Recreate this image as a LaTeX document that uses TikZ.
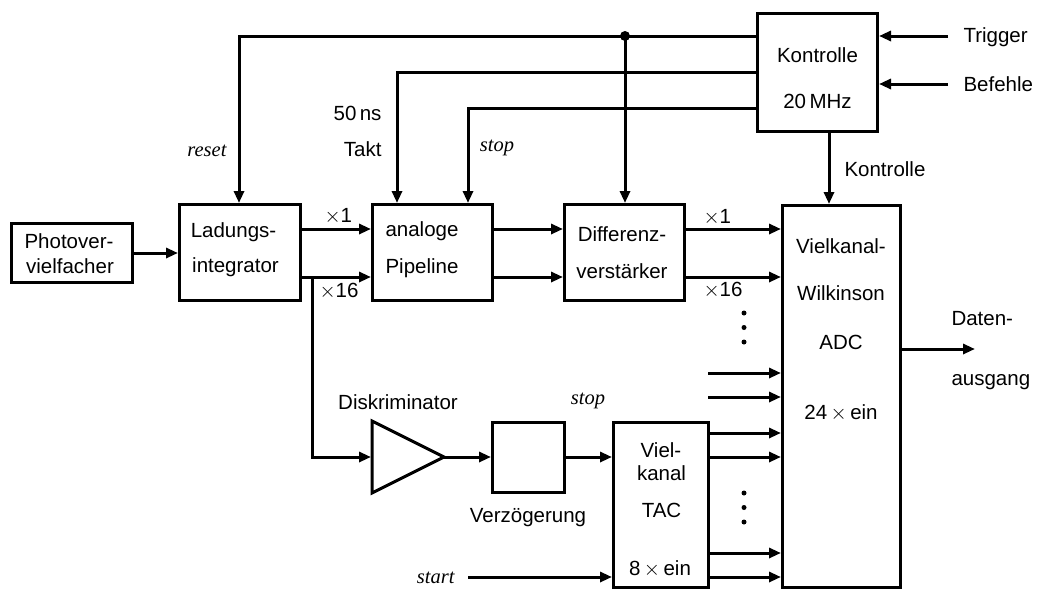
\documentclass[tikz,border=0pt]{standalone}
\usepackage{fontspec}
\setmainfont{Liberation Sans}
\newfontfamily\tms{Liberation Serif}
\usetikzlibrary{arrows.meta}
\begin{document}
\begin{tikzpicture}[x=1pt,y=-1pt,line width=3pt,
  font=\fontsize{20.5}{24}\selectfont,
  box/.style={draw,rectangle,inner sep=0pt,line width=3pt},
  sig/.style={-{Triangle[length=12pt,width=10pt]},line width=3pt},
  wire/.style={line width=3pt},
  txt/.style={inner sep=0pt,anchor=base},
  txtl/.style={inner sep=0pt,anchor=base west},
  txtr/.style={inner sep=0pt,anchor=base east},
  it/.style={font=\fontsize{20.5}{24}\selectfont\tms\itshape},
  jdot/.style={circle,fill,inner sep=0pt,minimum size=10pt},
  edot/.style={circle,fill,inner sep=0pt,minimum size=5pt}]
\useasboundingbox (0,0) rectangle (1039,592);

% boxes
\node[box,minimum width=121pt,minimum height=59pt] (pmt) at (72,253) {};
\node[box,minimum width=121pt,minimum height=96pt] (lad) at (240,252.5) {};
\node[box,minimum width=120pt,minimum height=96pt] (pipe) at (432.5,252.5) {};
\node[box,minimum width=120pt,minimum height=96pt] (diff) at (624.5,252.5) {};
\node[box,minimum width=120pt,minimum height=118pt] (ctrl) at (817.5,72.5) {};
\node[box,minimum width=118pt,minimum height=382pt] (adc) at (841.5,396.5) {};
\node[box,minimum width=95pt,minimum height=165pt] (tac) at (661,505) {};
\node[box,minimum width=72pt,minimum height=70pt] (delay) at (528.5,457.5) {};

% discriminator triangle
\coordinate (dl) at (371,457);
\coordinate (da) at (444,457);
\draw[wire,line join=miter] (372,421) -- (444,457) -- (372,493) -- cycle;

% texts in boxes
\node[txt] (t1) at (69,248) {Photover-};
\node[txt] (t2) at (70,273) {vielfacher};
\node[txt] (t3) at (233.5,237) {Ladungs-};
\node[txt] (t4) at (235.5,272) {integrator};
\node[txt] (t5) at (422,236) {analoge};
\node[txt] (t6) at (422,273) {Pipeline};
\node[txt] (t7) at (622,241) {Differenz-};
\node[txt] (t8) at (622,278) {verstärker};
\node[txt] (t9) at (817.5,62) {Kontrolle};
\node[txt] (t10) at (817.5,108) {20\,MHz};
\node[txt] (t11) at (841,253) {Vielkanal-};
\node[txt] (t12) at (841,300) {Wilkinson};
\node[txt] (t13) at (841,349) {ADC};
\node[txt] (t14) at (841,419) {24$\,\times\,$ein};
\node[txt] (t15) at (661,457) {Viel-};
\node[txt] (t16) at (661.5,480) {kanal};
\node[txt] (t17) at (661.5,517) {TAC};
\node[txt] (t18) at (660,575) {8$\,\times\,$ein};

% other labels
\node[txtl] (l1) at (962,42) {Trigger};
\node[txtl] (l2) at (962,91) {Befehle};
\node[txtl] (l3) at (843,176) {Kontrolle};
\node[txtl] (l4) at (950,325) {Daten-};
\node[txtl] (l5) at (950,385) {ausgang};
\node[txt] (l6) at (398,409) {Diskriminator};
\node[txt] (l7) at (528,522) {Verzögerung};
\node[txt,it] (l8) at (588,404) {stop};
\node[txtr,it] (l9) at (456,583) {start};
\node[txtr,it] (l10) at (228,156) {reset};
\node[txtr] (l11) at (383,120) {50\,ns};
\node[txtr] (l12) at (383,156) {Takt};
\node[txt,it] (l13) at (497,151) {stop};
\node[txtl] (l14) at (323,222) {$\times$1};
\node[txtl] (l15) at (318,297) {$\times$16};
\node[txtl] (l16) at (702,223) {$\times$1};
\node[txtl] (l17) at (702,296) {$\times$16};

% level coordinates
\coordinate (yA) at (0,229);
\coordinate (yB) at (0,277);
\coordinate (y36) at (0,36);
\coordinate (y72) at (0,72);
\coordinate (y108) at (0,108);
\coordinate (xr) at (239,0);
\coordinate (xt) at (397,0);
\coordinate (xs) at (468,0);
\coordinate (xk) at (829,0);

% signal chain
\draw[sig] (pmt.east) -- (lad.west |- pmt.east);
\draw[sig] (lad.east |- yA) -- (pipe.west |- yA);
\draw[sig] (lad.east |- yB) -- (pipe.west |- yB);
\draw[sig] (pipe.east |- yA) -- (diff.west |- yA);
\draw[sig] (pipe.east |- yB) -- (diff.west |- yB);
\draw[sig] (diff.east |- yA) -- (adc.west |- yA);
\draw[sig] (diff.east |- yB) -- (adc.west |- yB);

\coordinate (br) at (312,277);
\draw[sig] (br) |- (dl);
\draw[sig] (da) -- (delay.west |- da);
\draw[sig] (delay.east |- da) -- (tac.west |- da);
\coordinate (st) at (468,577);
\draw[sig] (st) -- (tac.west |- st);

\foreach \y [count=\i] in {433,457,553,577} {
  \coordinate (ty\i) at (0,\y);
  \draw[sig] (tac.east |- ty\i) -- (adc.west |- ty\i);
}
\coordinate (f1) at (708,373);
\coordinate (f2) at (708,397);
\draw[sig] (f1) -- (adc.west |- f1);
\draw[sig] (f2) -- (adc.west |- f2);

\coordinate (out) at (975,349);
\draw[sig] (adc.east |- out) -- (out);

% control
\coordinate (trg) at (948,36);
\coordinate (bef) at (948,84);
\draw[sig] (trg) -- (ctrl.east |- trg);
\draw[sig] (bef) -- (ctrl.east |- bef);
\draw[sig] (ctrl.south -| xk) -- (adc.north -| xk);
\draw[sig] (ctrl.west |- y36) -| (lad.north -| xr);
\draw[sig] (ctrl.west |- y72) -| (pipe.north -| xt);
\draw[sig] (ctrl.west |- y108) -| (pipe.north -| xs);
\node[jdot] (j) at (625,36) {};
\draw[sig] (j.center) -- (diff.north -| j.center);

% ellipsis dots
\node[edot] (d1) at (744,313) {};
\node[edot] (d2) at (744,327.5) {};
\node[edot] (d3) at (744,342) {};
\node[edot] (d4) at (744,493) {};
\node[edot] (d5) at (744,507.5) {};
\node[edot] (d6) at (744,522) {};
\end{tikzpicture}
\end{document}
